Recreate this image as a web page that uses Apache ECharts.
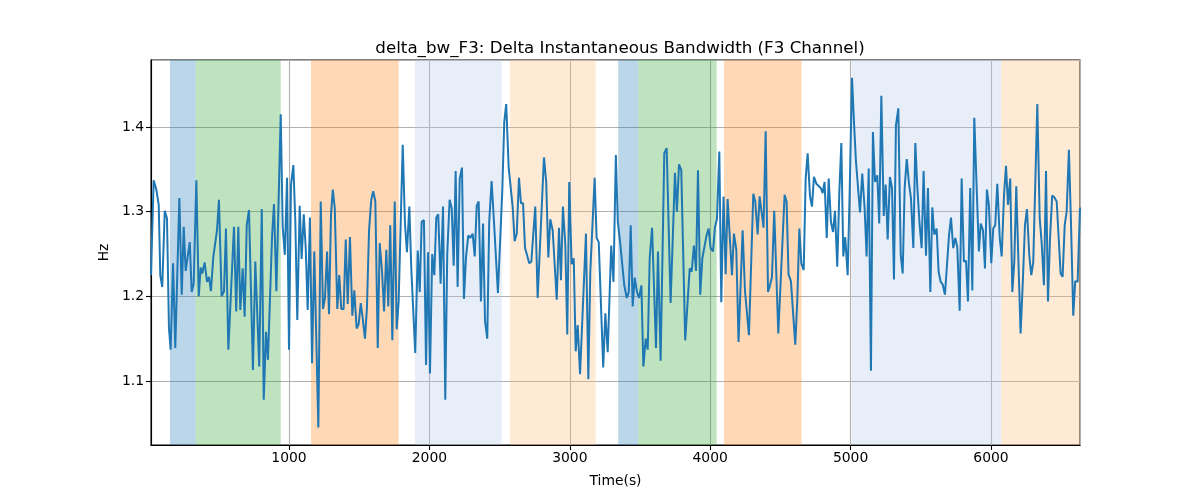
<!DOCTYPE html>
<html>
<head>
<meta charset="utf-8">
<script src="https://cdn.jsdelivr.net/npm/echarts@6/dist/echarts.min.js"></script>
<style>html,body{margin:0;padding:0;background:#fff}#chart{width:1200px;height:500px}</style>
</head>
<body>
<div id="chart"></div>
<script>
const chartTitle = 'delta_bw_F3: Delta Instantaneous Bandwidth (F3 Channel)';
const xName = 'Time(s)';
const yName = 'Hz';

const timeS = [
  17,36,55,72,83,97,115,131,145,157,174,190,219,236,250,264,293,307,321,340,357,371,382,399,416,430,444,461,487,501,520,537,551,568,608,624,639,653,670,
  684,699,715,743,760,788,806,820,836,850,879,893,910,941,955,970,986,1000,1014,1031,1045,1059,1076,1090,1105,1119,1133,1149,1164,1180,1209,1226,1242,1256,1271,1285,1299,1312,
  1326,1344,1358,1372,1389,1404,1418,1434,1451,1465,1482,1496,1511,1525,1541,1555,1570,1586,1600,1615,1632,1646,1662,1677,1693,1707,1721,1736,1753,1767,1781,1810,1826,1840,1857,1871,1899,1917,1931,1945,1961,1976,
  1990,2004,2020,2035,2049,2063,2080,2097,2113,2127,2144,2159,2173,2187,2201,2216,2232,2246,2261,2277,2291,2308,2323,2337,2351,2367,2382,2396,2412,2426,2443,2460,2488,2519,2533,2547,2565,2593,2607,2622,2638,
  2652,2667,2681,2695,2711,2726,2740,2754,2771,2816,2832,2847,2861,2878,2907,2923,2937,2951,2968,2982,2996,3013,3028,3042,3056,3073,3115,3132,3146,3177,3191,3206,3238,3253,3270,3284,
  3295,3311,3328,3342,3359,3373,3388,3406,3420,3434,3448,3462,3479,3493,3510,3524,3541,3555,3569,3586,3600,3614,3628,3647,3673,3690,3718,3749,3763,3778,3794,3808,3822,3854,3868,3884,3899,3913,3929,
  3944,3958,3974,3989,4003,4020,4034,4048,4065,4079,4095,4110,4124,4155,4169,4186,4202,4231,4248,4262,4276,4307,4321,4338,4352,4366,4380,4395,4412,4426,4440,4456,4485,4530,4544,4558,4575,4589,4606,
  4620,4635,4649,4666,4680,4694,4711,4725,4739,4756,4770,4787,4801,4815,4830,4844,4860,4875,4889,4905,4920,4934,4948,4962,4979,4993,5010,5024,5038,5067,5083,5100,5114,5129,5145,5159,5174,5190,5204,5219,5236,5250,5264,
  5280,5295,5309,5323,5340,5357,5371,5385,5400,5416,5430,5447,5461,5475,5492,5506,5520,5537,5551,5568,5582,5596,5613,5627,5642,5656,5672,5701,5715,5731,5746,5760,5777,5791,5807,5822,5836,5852,5867,5881,5898,5914,
  5927,5943,5957,5971,5985,6002,6016,6030,6045,6062,6076,6093,6107,6121,6137,6152,6166,6180,6197,6211,6228,6242,6256,6273,6287,6301,6330,6347,6361,6377,6392,6406,6420,6436,6451,6468,6496,6510,6525,6539,6555,6570,6586,6600,6617,6634
];

const deltaBw = [
  1.225,1.337,1.326,1.308,1.225,1.211,1.301,1.292,1.162,1.137,1.239,1.139,1.316,1.202,1.282,1.230,1.264,1.205,1.215,1.337,1.200,1.234,1.227,1.240,1.217,1.223,1.206,1.247,1.278,1.314,1.200,1.206,1.280,1.137,1.282,1.182,1.282,1.184,1.233,
  1.176,1.284,1.302,1.113,1.241,1.117,1.303,1.078,1.158,1.125,1.270,1.309,1.206,1.415,1.282,1.249,1.340,1.137,1.332,1.355,1.288,1.172,1.307,1.244,1.297,1.257,1.184,1.293,1.121,1.253,1.045,1.312,1.185,1.198,1.253,1.179,1.296,1.326,
  1.304,1.185,1.225,1.185,1.185,1.267,1.191,1.270,1.177,1.207,1.162,1.167,1.192,1.174,1.150,1.186,1.278,1.314,1.324,1.312,1.139,1.263,1.231,1.182,1.255,1.188,1.284,1.148,1.312,1.161,1.194,1.379,1.286,1.252,1.306,1.233,1.133,1.254,1.205,1.288,1.290,1.119,
  1.252,1.109,1.250,1.225,1.293,1.297,1.215,1.306,1.078,1.250,1.314,1.304,1.236,1.348,1.211,1.339,1.352,1.197,1.247,1.272,1.269,1.274,1.247,1.307,1.312,1.194,1.286,1.171,1.150,1.288,1.336,1.288,1.204,1.324,1.406,1.427,1.351,1.306,1.265,1.274,1.340,
  1.310,1.310,1.257,1.249,1.239,1.241,1.242,1.306,1.198,1.364,1.335,1.246,1.291,1.278,1.196,1.281,1.219,1.306,1.261,1.155,1.335,1.238,1.245,1.135,1.166,1.108,1.274,1.102,1.229,1.340,1.269,1.264,1.116,1.180,1.134,1.134,
  1.260,1.217,1.367,1.288,1.263,1.261,1.213,1.198,1.205,1.284,1.188,1.222,1.205,1.198,1.213,1.117,1.150,1.137,1.245,1.281,1.280,1.139,1.253,1.124,1.369,1.375,1.192,1.346,1.300,1.356,1.349,1.350,1.148,1.233,1.229,1.260,1.230,1.349,1.202,
  1.245,1.246,1.272,1.280,1.257,1.253,1.282,1.291,1.371,1.193,1.318,1.226,1.315,1.225,1.274,1.255,1.146,1.278,1.206,1.206,1.154,1.321,1.312,1.273,1.318,1.319,1.281,1.395,1.205,1.213,1.223,1.301,1.156,1.320,1.312,1.226,1.218,1.217,1.143,
  1.194,1.280,1.239,1.231,1.339,1.369,1.318,1.306,1.341,1.333,1.331,1.328,1.322,1.335,1.269,1.339,1.288,1.276,1.301,1.235,1.324,1.381,1.247,1.270,1.225,1.320,1.458,1.406,1.360,1.299,1.345,1.304,1.247,1.351,1.112,1.394,1.335,1.343,1.286,1.437,1.295,1.332,1.267,
  1.341,1.328,1.220,1.402,1.422,1.249,1.227,1.328,1.362,1.333,1.316,1.257,1.381,1.330,1.284,1.257,1.348,1.248,1.328,1.205,1.305,1.273,1.280,1.229,1.217,1.214,1.202,1.272,1.293,1.257,1.269,1.258,1.183,1.339,1.241,1.242,1.194,1.328,1.207,1.411,1.328,1.253,
  1.286,1.278,1.233,1.326,1.308,1.239,1.280,1.284,1.333,1.270,1.247,1.320,1.354,1.308,1.339,1.205,1.241,1.330,1.233,1.156,1.223,1.284,1.303,1.248,1.225,1.240,1.427,1.292,1.263,1.213,1.348,1.194,1.267,1.319,1.317,1.312,1.227,1.223,1.284,1.300,1.373,1.286,1.177,1.218,1.217,1.305
];

// shaded phases: start, end, kind
const spanStart = [152, 335, 1157, 1897, 2574, 3345, 3487, 4098, 5007, 6073];
const spanEnd   = [335, 941, 1781, 2515, 3184, 3487, 4046, 4651, 6073, 6634];
const spanKind  = ['blue','green','orange','lightblue','peach','blue','green','orange','lightblue','peach'];

const xMin = 17, xMax = 6634;
const yMin = 1.0244, yMax = 1.4791;

const kindColor = {
  blue: 'rgba(31,119,180,0.3)',
  green: 'rgba(44,160,44,0.3)',
  orange: 'rgba(255,127,14,0.3)',
  lightblue: 'rgba(174,199,232,0.3)',
  peach: 'rgba(255,187,120,0.3)'
};

const lineData = timeS.map((t, i) => [t, deltaBw[i]]);
const areas = spanStart.map((s, i) => [
  { xAxis: s, itemStyle: { color: kindColor[spanKind[i]] } },
  { xAxis: spanEnd[i] }
]);

const font = 'DejaVu Sans';
const chart = echarts.init(document.getElementById('chart'), null, { renderer: 'canvas' });
chart.setOption({
  animation: false,
  backgroundColor: '#fff',
  title: {
    text: chartTitle,
    left: 615, top: 35, textAlign: 'center',
    textStyle: { fontFamily: font, fontSize: 16.7, fontWeight: 'normal', color: '#000' }
  },
  grid: { left: 151, right: 120, top: 60, bottom: 55, show: true, borderColor: '#000', borderWidth: 1.1, backgroundColor: 'transparent' },
  xAxis: {
    type: 'value', min: xMin, max: xMax, splitNumber: 5,
    name: xName, nameLocation: 'middle', nameGap: 29,
    nameTextStyle: { fontFamily: font, fontSize: 13.9, color: '#000' },
    axisLine: { show: true, lineStyle: { color: '#000', width: 1.1 } },
    axisTick: { show: true, length: 5, lineStyle: { color: '#000', width: 1.1 } },
    axisLabel: { showMinLabel: false, showMaxLabel: false, margin: 6, fontFamily: font, fontSize: 13.9, color: '#000',
      formatter: v => String(Math.round(v)) },
    splitLine: { show: true, lineStyle: { color: '#b0b0b0', width: 1.1 } }
  },
  yAxis: {
    type: 'value', min: yMin, max: yMax, splitNumber: 5,
    name: yName, nameLocation: 'middle', nameGap: 39,
    nameTextStyle: { fontFamily: font, fontSize: 13.9, color: '#000' },
    axisLine: { show: true, lineStyle: { color: '#000', width: 1.1 } },
    axisTick: { show: true, length: 5, lineStyle: { color: '#000', width: 1.1 } },
    axisLabel: { showMinLabel: false, showMaxLabel: false, margin: 7, fontFamily: font, fontSize: 13.9, color: '#000',
      formatter: v => v.toFixed(1) },
    splitLine: { show: true, lineStyle: { color: '#b0b0b0', width: 1.1 } }
  },
  series: [{
    type: 'line',
    data: lineData,
    showSymbol: false,
    symbol: 'none',
    sampling: null,
    lineStyle: { color: '#1f77b4', width: 2 },
    z: 3,
    markArea: { silent: true, data: areas }
  }]
});
</script>
</body>
</html>
